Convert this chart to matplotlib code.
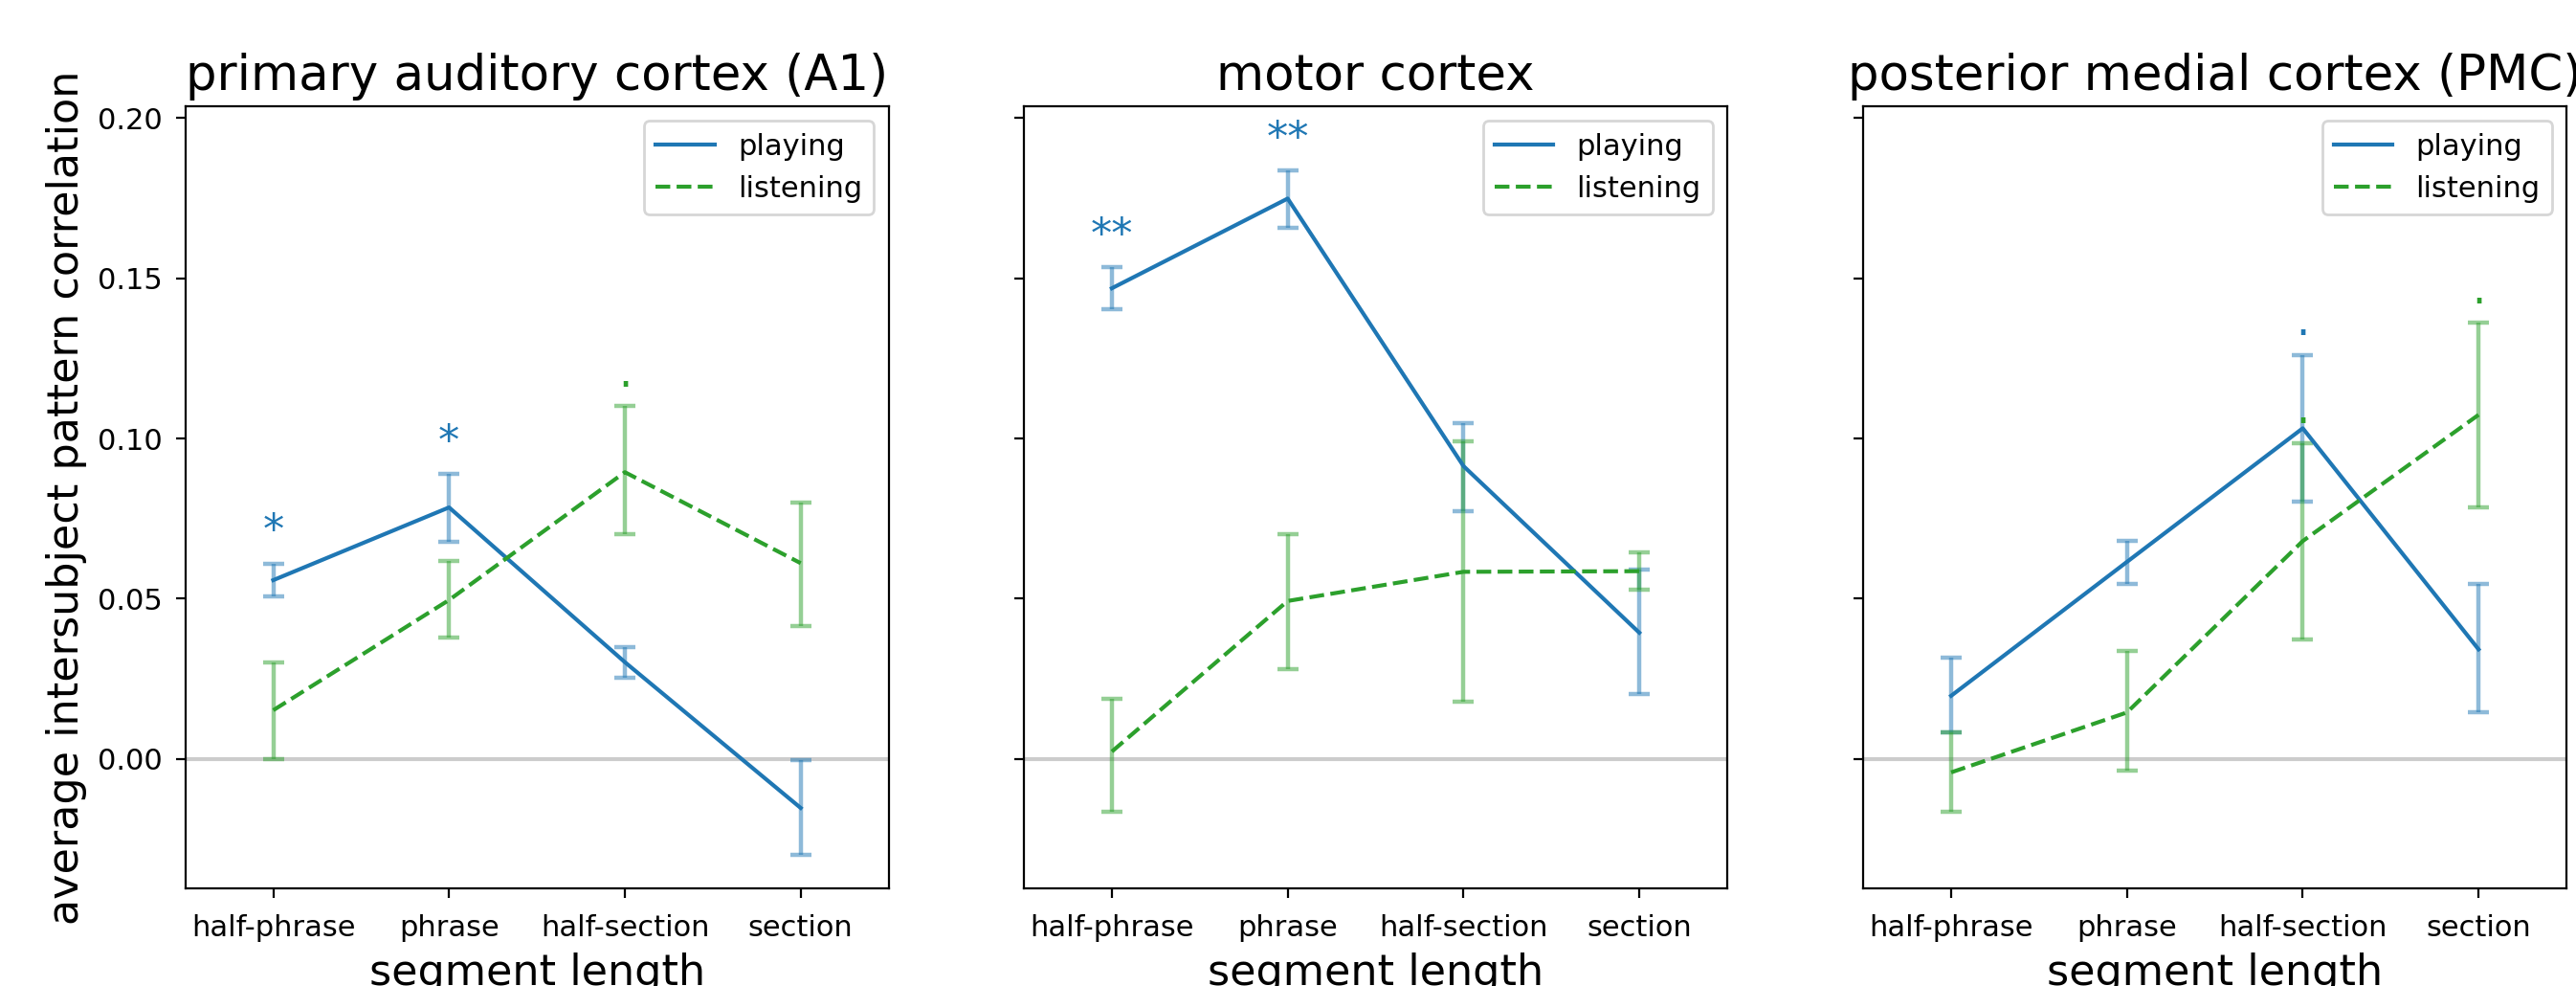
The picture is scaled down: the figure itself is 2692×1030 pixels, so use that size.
import matplotlib
matplotlib.use("Agg")
import matplotlib.pyplot as plt
import numpy as np

segments = ["half-phrase", "phrase", "half-section", "section"]
regions = ["primary auditory cortex (A1)", "motor cortex", "posterior medial cortex (PMC)"]

# playing: mean, lower, upper per region
play_mean = [[0.0558, 0.0785, 0.0302, -0.0153],
             [0.1469, 0.1749, 0.0914, 0.0394],
             [0.0197, 0.0615, 0.1032, 0.0342]]
play_low = [[0.0508, 0.0677, 0.0252, -0.0299],
            [0.1405, 0.1659, 0.0773, 0.0202],
            [0.0083, 0.0546, 0.0803, 0.0145]]
play_up = [[0.0609, 0.0889, 0.0350, -0.0005],
           [0.1534, 0.1836, 0.1049, 0.0590],
           [0.0315, 0.0682, 0.1260, 0.0546]]

listen_mean = [[0.0152, 0.0496, 0.0895, 0.0611],
               [0.0023, 0.0493, 0.0584, 0.0586],
               [-0.0042, 0.0145, 0.0680, 0.1074]]
listen_low = [[0.0000, 0.0379, 0.0702, 0.0414],
              [-0.0164, 0.0281, 0.0179, 0.0527],
              [-0.0166, -0.0037, 0.0372, 0.0785]]
listen_up = [[0.0302, 0.0618, 0.1101, 0.0801],
             [0.0189, 0.0702, 0.0992, 0.0645],
             [0.0083, 0.0337, 0.0986, 0.1361]]

play_sig = [["*", "*", "", ""],
            ["**", "**", "", ""],
            ["", "", ".", ""]]
listen_sig = [["", "", ".", ""],
              ["", "", "", ""],
              ["", "", ".", "."]]

blue = "#1f77b4"
green = "#2ca02c"

fig = plt.figure(figsize=(13.46, 5.15), dpi=200)
lefts = [0.07195, 0.3975, 0.7233]
axes = []
for i, l in enumerate(lefts):
    if i == 0:
        ax = fig.add_axes([l, 0.0987, 0.2730, 0.7935])
    else:
        ax = fig.add_axes([l, 0.0987, 0.2730, 0.7935], sharey=axes[0])
    axes.append(ax)

x = np.arange(len(segments))
for i, ax in enumerate(axes):
    pm = np.array(play_mean[i]); pl = np.array(play_low[i]); pu = np.array(play_up[i])
    lm = np.array(listen_mean[i]); ll = np.array(listen_low[i]); lu = np.array(listen_up[i])
    ax.axhline(0, color="gray", alpha=0.4, lw=1.5, zorder=0)
    ax.errorbar(x, pm, yerr=[pm - pl, pu - pm], fmt="none", ecolor=blue,
                alpha=0.5, capsize=4, elinewidth=1.6, capthick=1.6)
    ax.errorbar(x, lm, yerr=[lm - ll, lu - lm], fmt="none", ecolor=green,
                alpha=0.5, capsize=4, elinewidth=1.6, capthick=1.6)
    ax.plot(x, pm, color=blue, lw=1.5, label="playing")
    ax.plot(x, lm, color=green, lw=1.5, ls="--", label="listening")
    for j in range(len(segments)):
        if play_sig[i][j]:
            ax.text(x[j], pu[j] + 0.0035, play_sig[i][j], color=blue,
                    ha="center", va="bottom", fontsize=16)
        if listen_sig[i][j]:
            ax.text(x[j], lu[j] + 0.0035, listen_sig[i][j], color=green,
                    ha="center", va="bottom", fontsize=16)
    ax.set_xticks(x)
    ax.set_xticklabels(segments, fontsize=11)
    ax.tick_params(axis="y", labelsize=11, pad=5)
    ax.tick_params(axis="x", pad=6)
    ax.set_xlim(-0.5, 3.5)
    ax.set_title(regions[i], fontsize=18.5)
    ax.set_xlabel("segment length", fontsize=16)
    ax.legend(loc="upper right", fontsize=11)
    if i > 0:
        ax.tick_params(labelleft=False)

axes[0].set_ylim(-0.0405, 0.2037)
axes[0].set_yticks([0.0, 0.05, 0.10, 0.15, 0.20])
axes[0].set_ylabel("average intersubject pattern correlation", fontsize=16)

fig.savefig("out.png", dpi=200)
